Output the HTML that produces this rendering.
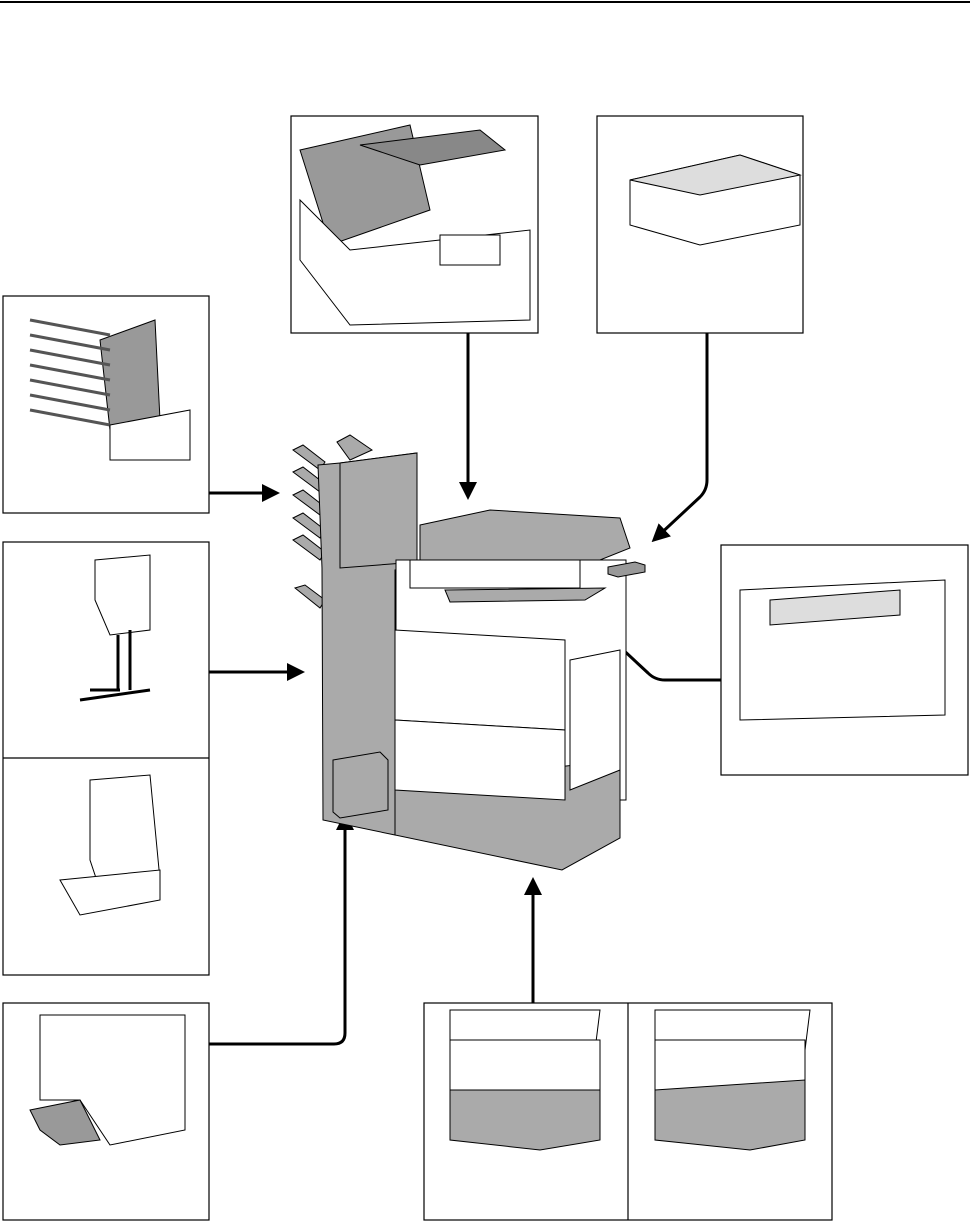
<!DOCTYPE html>
<html><head><style>body{margin:0;background:#fff}svg{display:block}</style></head><body>
<svg width="970" height="1224" viewBox="0 0 970 1224" xmlns="http://www.w3.org/2000/svg">
<defs><marker id="ah" markerWidth="6" markerHeight="6" refX="4" refY="3" orient="auto" markerUnits="strokeWidth"><path d="M0,0 L6,3 L0,6 Z" fill="#000"/></marker></defs>
<line x1="0" y1="2" x2="970" y2="2" stroke="#000" stroke-width="2"/>
<g fill="none" stroke="#000" stroke-width="1.2">
<rect x="291" y="116" width="247" height="217"/>
<rect x="597" y="116" width="206" height="217"/>
<rect x="3" y="296" width="206" height="217"/>
<rect x="3" y="542" width="206" height="433"/>
<line x1="3" y1="758" x2="209" y2="758"/>
<rect x="721" y="545" width="247" height="230"/>
<rect x="3" y="1003" width="206" height="217"/>
<rect x="424" y="1003" width="408" height="217"/>
<line x1="628" y1="1003" x2="628" y2="1220"/>
</g>
<g fill="none" stroke="#000" stroke-width="3">
<path d="M468,333 V494" marker-end="url(#ah)"/>
<path d="M707,333 V480 Q707,490 700,497 L656,538" marker-end="url(#ah)"/>
<path d="M209,493 H274" marker-end="url(#ah)"/>
<path d="M209,672 H299" marker-end="url(#ah)"/>
<path d="M721,680 H665 Q655,680 648,673 L590,619" marker-end="url(#ah)"/>
<path d="M209,1044 H334 Q345,1044 345,1033 V818" marker-end="url(#ah)"/>
<path d="M533,1003 V883" marker-end="url(#ah)"/>
</g>
<g stroke="#000" stroke-width="1">
<polygon points="337,442 350,435 372,450 350,460" fill="#aaa"/>
<polygon points="293,450 303,445 325,462 320,470" fill="#aaa"/>
<polygon points="293,472 303,467 325,484 320,492" fill="#aaa"/>
<polygon points="293,495 303,490 325,507 320,515" fill="#aaa"/>
<polygon points="293,518 303,513 325,530 320,538" fill="#aaa"/>
<polygon points="293,540 303,535 325,552 320,560" fill="#aaa"/>
<polygon points="295,588 305,585 325,600 320,608" fill="#aaa"/>
<polygon points="318,465 340,463 417,453 417,568 395,570 395,835 323,820 322,568" fill="#aaa"/>
<polygon points="340,463 417,453 417,562 340,568" fill="#aaa"/>
<polygon points="420,525 490,510 620,518 630,548 600,560 420,560" fill="#aaa"/>
<rect x="396" y="560" width="230" height="240" fill="#fff"/>
<polygon points="395,785 620,760 620,838 562,870 395,835" fill="#aaa"/>
<rect x="410" y="560" width="170" height="28" fill="#fff"/>
<polygon points="445,590 605,588 585,600 450,602" fill="#aaa"/>
<polygon points="395,630 565,640 565,730 395,720" fill="#fff"/>
<polygon points="395,720 565,730 565,800 395,790" fill="#fff"/>
<polygon points="570,660 620,650 620,770 570,790" fill="#fff"/>
<polygon points="333,760 380,752 388,760 388,810 340,818 333,812" fill="#aaa"/>
<polygon points="608,567 635,562 645,565 645,572 618,577 608,574" fill="#999"/>
</g>
<g stroke="#000" stroke-width="1" fill="#fff">
<polygon points="300,150 410,125 430,210 330,245" fill="#999"/>
<polygon points="360,145 480,130 505,150 420,165" fill="#888"/>
<polygon points="300,200 350,250 530,230 530,320 350,325 300,260" fill="#fff"/>
<rect x="440" y="235" width="60" height="30"/>
<polygon points="630,180 740,155 800,175 800,225 700,245 630,225" fill="#fff"/>
<polygon points="630,180 740,155 800,175 700,195" fill="#ddd"/>
<polygon points="100,340 155,320 160,420 110,430" fill="#999"/>
<path d="M30,320 L110,335 M30,335 L110,350 M30,350 L110,365 M30,365 L110,380 M30,380 L110,395 M30,395 L110,410 M30,410 L110,425" stroke="#555" stroke-width="3"/>
<polygon points="110,425 190,410 190,460 110,460"/>
<polygon points="95,560 150,555 150,630 110,635 95,600"/>
<path d="M118,635 V690 M130,630 V690 M80,700 L150,690 M90,690 L120,690" stroke-width="3"/>
<polygon points="90,780 150,775 160,880 100,890 90,860"/>
<polygon points="60,880 160,870 160,900 80,915"/>
<polygon points="40,1015 185,1015 185,1130 110,1145 80,1100 40,1100"/>
<polygon points="30,1110 80,1100 100,1140 60,1145 40,1130" fill="#999"/>
<polygon points="740,590 945,580 945,715 740,720"/>
<polygon points="770,600 900,590 900,615 770,625" fill="#ddd"/>
<polygon points="450,1010 600,1010 595,1050 540,1050 450,1040"/>
<polygon points="450,1090 600,1075 600,1140 540,1150 450,1140" fill="#aaa"/>
<rect x="450" y="1040" width="150" height="50"/>
<polygon points="655,1010 810,1010 805,1050 750,1050 655,1040"/>
<rect x="655" y="1040" width="150" height="50"/>
<polygon points="655,1090 805,1080 805,1140 750,1150 655,1140" fill="#aaa"/>
</g>
</svg>
</body></html>
